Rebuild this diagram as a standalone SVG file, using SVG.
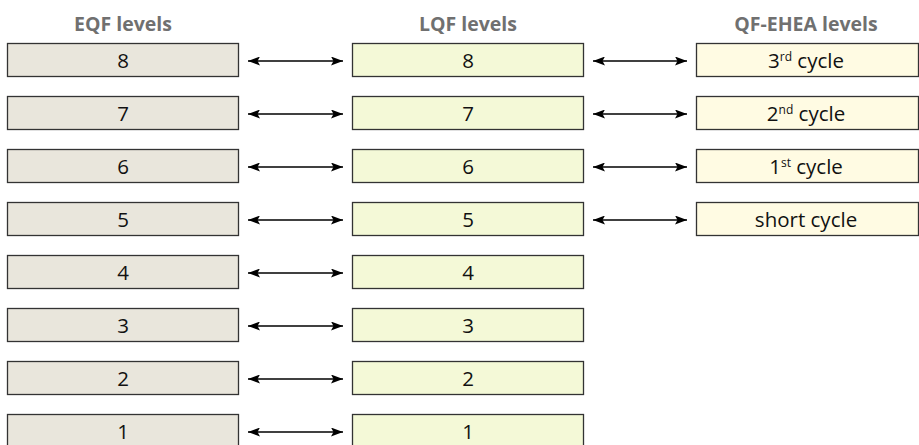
<svg xmlns="http://www.w3.org/2000/svg" width="919" height="445" viewBox="0 0 919 445">
<defs>
<style>
.hdr{font-family:"Open Sans","Noto Sans",sans-serif;font-weight:bold;font-size:19.5px;fill:#707070;text-anchor:middle}
.lbl{font-family:"Open Sans","Noto Sans",sans-serif;font-size:20.5px;fill:#111;text-anchor:middle}
.sup{font-size:12px}
.eqf{fill:#e9e6dc;stroke:#333;stroke-width:1.3}
.lqf{fill:#f4f9d7;stroke:#333;stroke-width:1.3}
.qf{fill:#fffbe3;stroke:#333;stroke-width:1.3}
.con{stroke:#000;stroke-width:1.4;fill:none;marker-start:url(#ah);marker-end:url(#ah)}
</style>
<marker id="ah" viewBox="0 0 12 9" refX="12" refY="4.5" markerWidth="12" markerHeight="9" markerUnits="userSpaceOnUse" orient="auto-start-reverse">
<path d="M0,0 L12,4.5 L0,9 L2.5,4.5 Z" fill="#000"/>
</marker>
</defs>
<g id="headers">
<text class="hdr" x="123" y="31">EQF levels</text>
<text class="hdr" x="468" y="31">LQF levels</text>
<text class="hdr" x="806" y="31">QF-EHEA levels</text>
</g>
<g id="eqf8"><rect class="eqf" x="7.5" y="43.5" width="231" height="33"/><text class="lbl" x="123" y="68">8</text></g>
<g id="eqf7"><rect class="eqf" x="7.5" y="96.5" width="231" height="33"/><text class="lbl" x="123" y="121">7</text></g>
<g id="eqf6"><rect class="eqf" x="7.5" y="149.5" width="231" height="33"/><text class="lbl" x="123" y="174">6</text></g>
<g id="eqf5"><rect class="eqf" x="7.5" y="202.5" width="231" height="33"/><text class="lbl" x="123" y="227">5</text></g>
<g id="eqf4"><rect class="eqf" x="7.5" y="255.5" width="231" height="33"/><text class="lbl" x="123" y="280">4</text></g>
<g id="eqf3"><rect class="eqf" x="7.5" y="308.5" width="231" height="33"/><text class="lbl" x="123" y="333">3</text></g>
<g id="eqf2"><rect class="eqf" x="7.5" y="361.5" width="231" height="33"/><text class="lbl" x="123" y="386">2</text></g>
<g id="eqf1"><rect class="eqf" x="7.5" y="414.5" width="231" height="33"/><text class="lbl" x="123" y="439">1</text></g>

<g id="lqf8"><rect class="lqf" x="352.5" y="43.5" width="231" height="33"/><text class="lbl" x="468" y="68">8</text></g>
<g id="lqf7"><rect class="lqf" x="352.5" y="96.5" width="231" height="33"/><text class="lbl" x="468" y="121">7</text></g>
<g id="lqf6"><rect class="lqf" x="352.5" y="149.5" width="231" height="33"/><text class="lbl" x="468" y="174">6</text></g>
<g id="lqf5"><rect class="lqf" x="352.5" y="202.5" width="231" height="33"/><text class="lbl" x="468" y="227">5</text></g>
<g id="lqf4"><rect class="lqf" x="352.5" y="255.5" width="231" height="33"/><text class="lbl" x="468" y="280">4</text></g>
<g id="lqf3"><rect class="lqf" x="352.5" y="308.5" width="231" height="33"/><text class="lbl" x="468" y="333">3</text></g>
<g id="lqf2"><rect class="lqf" x="352.5" y="361.5" width="231" height="33"/><text class="lbl" x="468" y="386">2</text></g>
<g id="lqf1"><rect class="lqf" x="352.5" y="414.5" width="231" height="33"/><text class="lbl" x="468" y="439">1</text></g>

<g id="qf3"><rect class="qf" x="696.5" y="43.5" width="222" height="33"/><text class="lbl" x="806" y="68">3<tspan class="sup" dy="-7">rd</tspan><tspan dy="7"> cycle</tspan></text></g>
<g id="qf2"><rect class="qf" x="696.5" y="96.5" width="222" height="33"/><text class="lbl" x="806" y="121">2<tspan class="sup" dy="-7">nd</tspan><tspan dy="7"> cycle</tspan></text></g>
<g id="qf1"><rect class="qf" x="696.5" y="149.5" width="222" height="33"/><text class="lbl" x="806" y="174">1<tspan class="sup" dy="-7">st</tspan><tspan dy="7"> cycle</tspan></text></g>
<g id="qfs"><rect class="qf" x="696.5" y="202.5" width="222" height="33"/><text class="lbl" x="806" y="227">short cycle</text></g>

<g id="connectors">
<line class="con" x1="248" y1="61" x2="343" y2="61"/>
<line class="con" x1="248" y1="114" x2="343" y2="114"/>
<line class="con" x1="248" y1="167" x2="343" y2="167"/>
<line class="con" x1="248" y1="220" x2="343" y2="220"/>
<line class="con" x1="248" y1="273" x2="343" y2="273"/>
<line class="con" x1="248" y1="326" x2="343" y2="326"/>
<line class="con" x1="248" y1="379" x2="343" y2="379"/>
<line class="con" x1="248" y1="432" x2="343" y2="432"/>
<line class="con" x1="593" y1="61" x2="687" y2="61"/>
<line class="con" x1="593" y1="114" x2="687" y2="114"/>
<line class="con" x1="593" y1="167" x2="687" y2="167"/>
<line class="con" x1="593" y1="220" x2="687" y2="220"/>
</g>
</svg>
